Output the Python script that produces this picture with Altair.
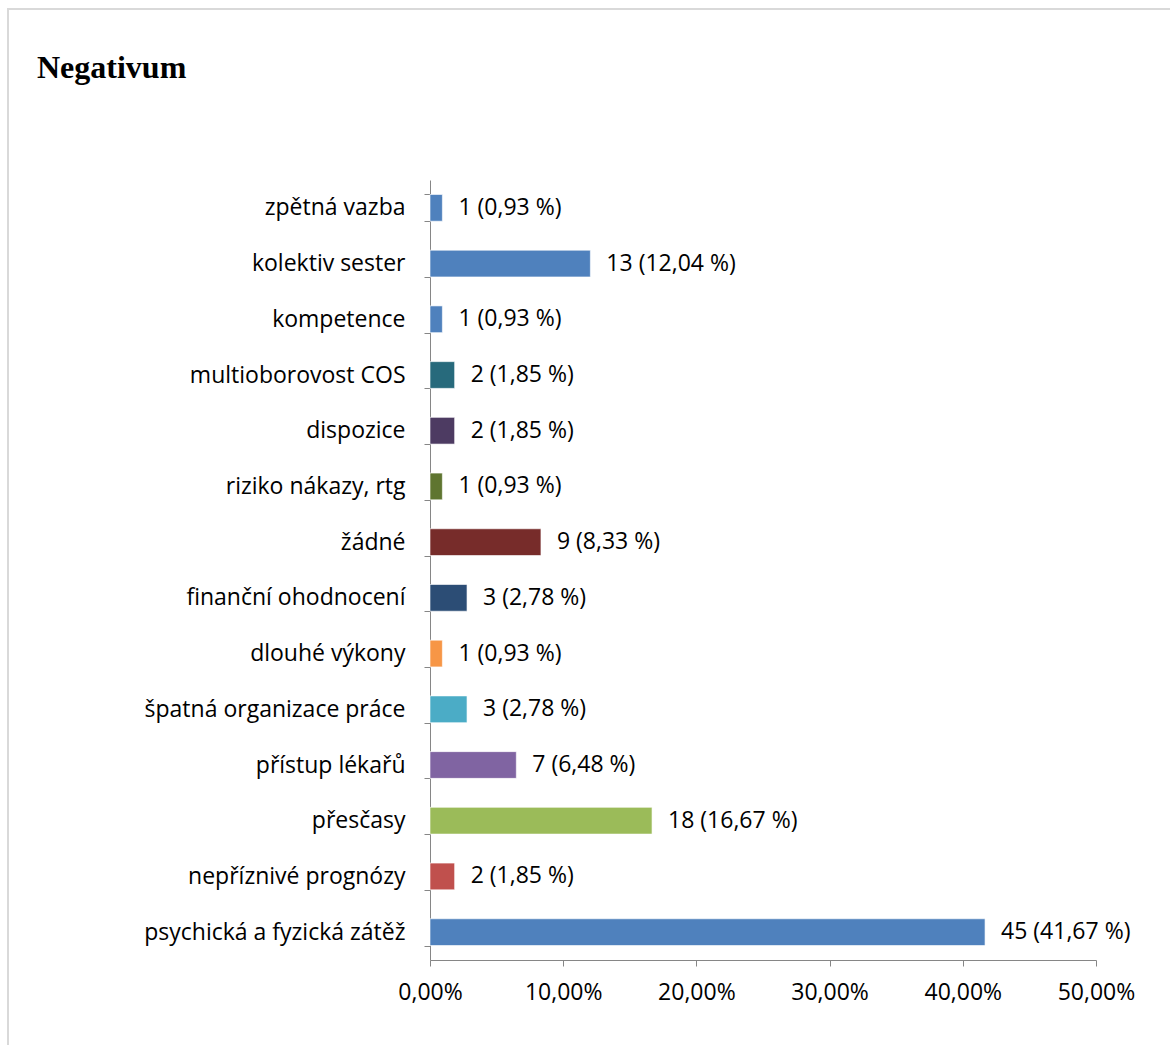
import altair as alt
import pandas as pd

categories = [
    "zpětná vazba", "kolektiv sester", "kompetence", "multioborovost COS",
    "dispozice", "riziko nákazy, rtg", "žádné", "finanční ohodnocení",
    "dlouhé výkony", "špatná organizace práce", "přístup lékařů",
    "přesčasy", "nepříznivé prognózy", "psychická a fyzická zátěž",
]
counts = [1, 13, 1, 2, 2, 1, 9, 3, 1, 3, 7, 18, 2, 45]
percents = [0.93, 12.04, 0.93, 1.85, 1.85, 0.93, 8.33, 2.78, 0.93, 2.78, 6.48, 16.67, 1.85, 41.67]
colors = [
    "#4F81BD", "#4F81BD", "#4F81BD", "#276A7C", "#4D3B62", "#5F7530",
    "#772C2A", "#2C4D75", "#F79646", "#4BACC6", "#8064A2", "#9BBB59",
    "#C0504D", "#4F81BD",
]
x_ticks = [0, 0.1, 0.2, 0.3, 0.4, 0.5]

df = pd.DataFrame({
    "cat": categories,
    "share": [p / 100 for p in percents],
    "color": colors,
    "label": [f"{n} ({p:.2f} %)".replace(".", ",") for n, p in zip(counts, percents)],
})

LABEL_FONT = "Open Sans"
FS = 23

y_enc = alt.Y(
    "cat:N", sort=categories, title=None,
    scale=alt.Scale(paddingInner=0.52, paddingOuter=0.26),
    axis=alt.Axis(
        tickBand="extent", tickSize=6, tickColor="#868686", domainColor="#868686",
        labelFont=LABEL_FONT, labelFontSize=FS, labelColor="#000000",
        labelPadding=19, grid=False, labelLimit=400,
    ),
)
x_enc = alt.X(
    "share:Q", title=None,
    scale=alt.Scale(domain=[0, 0.5], nice=False, zero=True),
    axis=alt.Axis(
        values=x_ticks, tickSize=6, tickColor="#868686", domainColor="#868686",
        labelFont=LABEL_FONT, labelFontSize=FS, labelColor="#000000",
        labelPadding=15, grid=False, labelFlush=False,
        labelExpr="replace(format(datum.value, '.2%'), '.', ',')",
    ),
)

frame = alt.Chart(pd.DataFrame({"a": [0]})).mark_rect(
    fill=None, stroke="#d9d9d9", strokeWidth=2
).encode(
    x=alt.value(-422), x2=alt.value(760), y=alt.value(-171), y2=alt.value(900)
)

bars = alt.Chart(df).mark_bar(stroke="#ffffff", strokeWidth=1, strokeOpacity=0.6).encode(
    y=y_enc, x=x_enc, color=alt.Color("color:N", scale=None),
)

texts = alt.Chart(df).mark_text(
    align="left", baseline="middle", dx=16, font=LABEL_FONT, fontSize=FS, color="#000000"
).encode(
    y=alt.Y("cat:N", sort=categories), x=alt.X("share:Q"), text="label:N",
)

chart = alt.layer(frame, bars, texts).properties(
    width=666, height=780,
    title=alt.TitleParams(
        "Negativum", anchor="start", frame="group", dx=-393, offset=0, dy=102,
        font="Liberation Serif", fontSize=32, fontWeight="bold", color="#000000",
        baseline="alphabetic",
    ),
    autosize=alt.AutoSizeParams(type="none"),
    padding={"left": 430, "top": 180, "right": 74, "bottom": 85},
).configure(background="#ffffff").configure_view(stroke=None)

chart.save("out.html", embed_options={"renderer": "svg", "actions": False})
